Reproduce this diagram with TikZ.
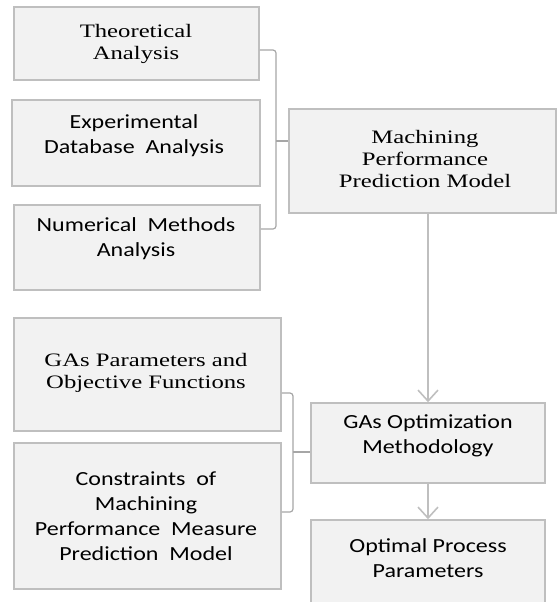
\documentclass[tikz,border=0pt]{standalone}
\usepackage{fontspec}
\usepackage{graphicx}
\setmainfont{Liberation Serif}
\newfontfamily\calib{Carlito}
\usetikzlibrary{arrows.meta}
\definecolor{boxfill}{HTML}{F2F2F2}
\definecolor{boxline}{HTML}{BFBFBF}
\definecolor{brk}{HTML}{A6A6A6}
\newcommand\sertxt[1]{{\fontsize{19}{22}\selectfont\scalebox{1.3}[1]{\begin{tabular}{@{}c@{}}#1\end{tabular}}}}
\newcommand\santxt[1]{{\calib\fontsize{20}{25}\selectfont\scalebox{1.2}[1]{\begin{tabular}{@{}c@{}}#1\end{tabular}}}}
\tikzset{
  x=1pt,y=-1pt,
  boxnode/.style={draw=boxline,fill=boxfill,line width=1.5pt,inner sep=0pt},
  txt/.style={inner sep=0pt,text=black},
  brack/.style={draw=brk,line width=1.2pt,rounded corners=3pt},
  flow/.style={draw=boxline,line width=2pt,-{Straight Barb[length=11pt,width=20pt,line width=1.6pt]}}
}
\newcommand\boxat[5]{% name, x1, y1, x2, y2
  \node[boxnode,minimum width={#4-#2},minimum height={#5-#3}] (#1) at ({(#2+#4)/2},{(#3+#5)/2}) {};}
\begin{document}
\begin{tikzpicture}
\useasboundingbox (0,0) rectangle (557,602);
\boxat{b1}{14}{7}{259}{80}
\boxat{b2}{12}{100}{260}{186}
\boxat{b3}{14}{205}{260}{290}
\boxat{mp}{289}{109}{556}{213}
\boxat{gp}{14}{318}{281}{431}
\boxat{cm}{14}{443}{281}{589}
\boxat{go}{311}{403}{545}{483}
\boxat{op}{311}{520}{545}{604}

\node[txt] (t1) at (136,44) {\sertxt{Theoretical\\Analysis}};
\node[txt] (t2) at (134,136) {\santxt{Experimental\\Database\ \ Analysis}};
\node[txt] (t3) at (136,239) {\santxt{Numerical\ \ Methods\\Analysis}};
\node[txt] (t4) at (425,161) {\sertxt{Machining\\Performance\\Prediction Model}};
\node[txt] (t5) at (146,373) {\sertxt{GAs Parameters and\\Objective Functions}};
\node[txt] (t6) at (146,518) {\santxt{Constraints\ \ of\\Machining\\Performance\ \ Measure\\Prediction\ \ Model}};
\node[txt] (t7) at (428,436) {\santxt{GAs Optimization\\Methodology}};
\node[txt] (t8) at (428,560) {\santxt{Optimal Process\\Parameters}};

% bracket 1
\coordinate (k1) at (276,50);
\coordinate (k2) at (276,229);
\coordinate (k3) at (276,141);
\draw[brack] (b1.east |- k1) -- (k1) -- (k2) -- (b3.east |- k2);
\draw[brack] (k3) -- (mp.west |- k3);
% bracket 2
\coordinate (m1) at (293,393);
\coordinate (m2) at (293,512);
\coordinate (m3) at (293,452);
\draw[brack] (gp.east |- m1) -- (m1) -- (m2) -- (cm.east |- m2);
\draw[brack] (m3) -- (go.west |- m3);

\draw[flow] (go.north |- mp.south) -- (go.north);
\draw[flow] (go.south) -- (op.north);
\end{tikzpicture}
\end{document}
